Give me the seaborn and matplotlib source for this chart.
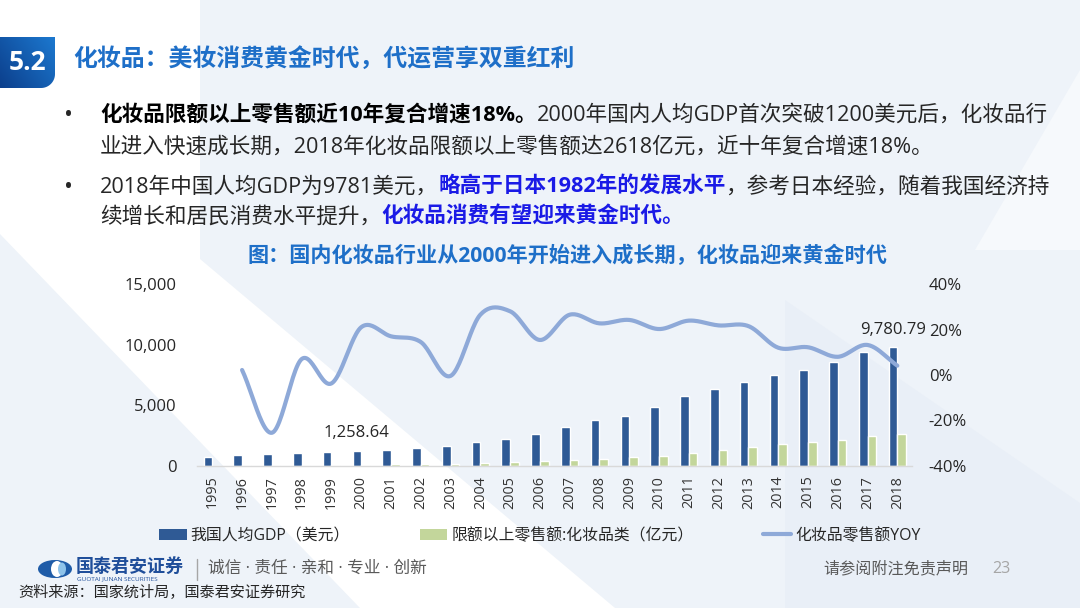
import numpy as np
import pandas as pd
import matplotlib
matplotlib.use("Agg")
import matplotlib.pyplot as plt
import seaborn as sns
from matplotlib.patches import Polygon, Patch, Ellipse
from matplotlib.lines import Line2D
from matplotlib.ticker import FuncFormatter, FixedLocator

# ---------------- data ----------------
years = [str(y) for y in range(1995, 2019)]
gdp_per_capita = [770, 880, 990, 1070, 1130, 1258.64, 1340, 1480, 1650, 1950,
                  2230, 2610, 3190, 3790, 4120, 4860, 5745, 6320, 6900, 7475,
                  7910, 8545, 9395, 9780.79]
cosmetics_sales = [40, 50, 60, 70, 80, 90, 130, 150, 165, 220, 300, 385, 470,
                   580, 715, 825, 1070, 1320, 1590, 1815, 1980, 2170, 2470, 2618]
yoy_years = years[1:]
cosmetics_yoy = [2.2, -25.4, 7.0, -3.7, 21.0, 17.0, 14.5, -0.4, 26.5, 28.0,
                 15.4, 26.5, 22.7, 24.2, 20.2, 23.9, 21.8, 21.5, 12.0, 12.2,
                 8.0, 13.2, 4.1]
series_names = ["我国人均GDP（美元）", "限额以上零售额:化妆品类（亿元）", "化妆品零售额YOY"]
left_ticks = [0, 5000, 10000, 15000]
right_ticks = [-40, -20, 0, 20, 40]
labelled_years = ["2000", "2018"]

header_no = "5.2"
header_title = "化妆品：美妆消费黄金时代，代运营享双重红利"
chart_title = "图：国内化妆品行业从2000年开始进入成长期，化妆品迎来黄金时代"
source_text = "资料来源：国家统计局，国泰君安证券研究"

# ---------------- style ----------------
W, H = 1080, 608
BAR_BLUE = "#2F5A95"
BAR_GREEN = "#C3D69B"
LINE_BLUE = "#8EA9D8"
TITLE_BLUE = "#1E6FC8"
HILITE = "#1A1AE6"
TXT = "#262626"

sns.set_style("white")
plt.rcParams["font.family"] = ["Open Sans", "Noto Sans CJK SC", "DejaVu Sans"]
plt.rcParams["axes.unicode_minus"] = False

fig = plt.figure(figsize=(W / 100, H / 100), dpi=100)
fig.patch.set_facecolor("#EEF3F9")


def P(x, y):
    return (x / W, 1 - y / H)


# background decoration
fig.patches.append(Polygon([P(0, 0), P(200, 0), P(200, 259), P(615, 608), P(360, 608), P(0, 234)],
                           closed=True, transform=fig.transFigure, facecolor="white",
                           edgecolor="none", zorder=-10))
fig.patches.append(Polygon([P(1080, 70), P(975, 250), P(1080, 250)],
                           closed=True, transform=fig.transFigure, facecolor="#F6F9FC",
                           edgecolor="none", zorder=-10))
fig.patches.append(Polygon([P(785, 300), P(1080, 503), P(1080, 608), P(785, 608)],
                           closed=True, transform=fig.transFigure, facecolor="#E9EFF7",
                           edgecolor="none", zorder=-9))

# header box with gradient and rounded bottom-right corner
axh = fig.add_axes([0, 1 - 88 / H, 55 / W, 51 / H])
axh.set_xlim(0, 55)
axh.set_ylim(88, 37)
axh.axis("off")
r = 14
ang = np.linspace(0, np.pi / 2, 20)
verts = [(0, 37), (55, 37), (55, 88 - r)] + \
        [(55 - r + r * np.cos(a), 88 - r + r * np.sin(a)) for a in ang] + [(0, 88)]
clip = Polygon(verts, closed=True, facecolor="none", edgecolor="none")
axh.add_patch(clip)
gx, gy = np.meshgrid(np.linspace(0, 1, 60), np.linspace(0, 1, 60))
grad = (gx * 0.6 + (1 - gy) * 0.4)
cmap = matplotlib.colors.LinearSegmentedColormap.from_list("hb", ["#0C3F8C", "#1C78CF"])
im = axh.imshow(grad, extent=[0, 55, 88, 37], cmap=cmap, aspect="auto")
im.set_clip_path(clip)
fig.text(*P(28, 62), header_no, color="white", fontsize=19, fontweight="bold",
         ha="center", va="center")
fig.text(*P(73, 60), header_title, color=TITLE_BLUE, fontsize=17.2, fontweight="bold",
         ha="left", va="center")

# bullet text (mixed runs)
renderer = fig.canvas.get_renderer()
BSIZE = 15.55


def draw_runs(runs, x0, yc):
    x = x0
    for txt, weight, color in runs:
        t = fig.text(*P(x, yc), txt, fontsize=BSIZE, fontweight=weight, color=color,
                     ha="left", va="center_baseline")
        x += t.get_window_extent(renderer=renderer).width


lines = [
    (113, [("化妆品限额以上零售额近10年复合增速18%。", "bold", "black"),
           ("2000年国内人均GDP首次突破1200美元后，化妆品行", "normal", TXT)]),
    (145, [("业进入快速成长期，2018年化妆品限额以上零售额达2618亿元，近十年复合增速18%。", "normal", TXT)]),
    (185, [("2018年中国人均GDP为9781美元，", "normal", TXT),
           ("略高于日本1982年的发展水平", "bold", HILITE),
           ("，参考日本经验，随着我国经济持", "normal", TXT)]),
    (215, [("续增长和居民消费水平提升，", "normal", TXT),
           ("化妆品消费有望迎来黄金时代。", "bold", HILITE)]),
]
for yc, runs in lines:
    draw_runs(runs, 100, yc)
for yc in (113, 185):
    fig.text(*P(69, yc), "•", fontsize=17, color=TXT, ha="center", va="center_baseline")

fig.text(*P(567, 256), chart_title, color=TITLE_BLUE, fontsize=15.2, fontweight="bold",
         ha="center", va="center")

# ---------------- chart ----------------
ax = fig.add_axes([197.4 / W, 1 - 466 / H, 714.8 / W, 182 / H])
ax.set_facecolor("none")
df = pd.DataFrame({
    "year": years * 2,
    "value": gdp_per_capita + cosmetics_sales,
    "series": [series_names[0]] * len(years) + [series_names[1]] * len(years),
})
sns.barplot(data=df, x="year", y="value", hue="series", palette=[BAR_BLUE, BAR_GREEN],
            width=0.58, saturation=1, errorbar=None, legend=False, ax=ax)
ax.set_xlim(-0.5, len(years) - 0.5)
ax.set_ylim(0, 15000)
ax.yaxis.set_major_locator(FixedLocator(left_ticks))
ax.yaxis.set_major_formatter(FuncFormatter(lambda v, p: f"{v:,.0f}"))
ax.set_xlabel("")
ax.set_ylabel("")
for s in ("top", "right", "left"):
    ax.spines[s].set_visible(False)
ax.spines["bottom"].set_color("#D9D9D9")
ax.spines["bottom"].set_linewidth(1)
ax.tick_params(axis="y", length=0, pad=15, labelsize=12, labelcolor=TXT)
ax.tick_params(axis="x", which="major", length=0, pad=7, labelsize=10.4,
               labelcolor="#333333", rotation=90)
ax.set_xticks(np.arange(-0.5, len(years), 1), minor=True)
ax.tick_params(axis="x", which="minor", length=4, width=1, color="#D9D9D9")
ax.grid(False)

# data labels on blue bars
for bar, yr, val in zip(ax.containers[0], years, gdp_per_capita):
    if yr in labelled_years:
        ax.annotate(f"{val:,.2f}", xy=(bar.get_x() + bar.get_width() / 2, bar.get_height()),
                    xytext=(0, 7), textcoords="offset points", ha="center", va="bottom",
                    fontsize=12, color=TXT)

ax2 = ax.twinx()
ax2.set_ylim(-40, 40)
ax2.yaxis.set_major_locator(FixedLocator(right_ticks))
ax2.yaxis.set_major_formatter(FuncFormatter(lambda v, p: f"{v:.0f}%"))
for s in ax2.spines.values():
    s.set_visible(False)
ax2.tick_params(axis="y", length=0, pad=12, labelsize=12, labelcolor=TXT)
ax2.grid(False)

# smooth (Catmull-Rom) rendering of the YOY series at the category positions
xpos = np.array([years.index(y) for y in yoy_years], dtype=float)
yv = np.array(cosmetics_yoy, dtype=float)
px = np.concatenate([[2 * xpos[0] - xpos[1]], xpos, [2 * xpos[-1] - xpos[-2]]])
py = np.concatenate([[2 * yv[0] - yv[1]], yv, [2 * yv[-1] - yv[-2]]])
xs, ys = [], []
t = np.linspace(0, 1, 25)
for i in range(1, len(px) - 2):
    for arr, out in ((px, xs), (py, ys)):
        p0, p1, p2, p3 = arr[i - 1], arr[i], arr[i + 1], arr[i + 2]
        seg = 0.5 * ((2 * p1) + (-p0 + p2) * t + (2 * p0 - 5 * p1 + 4 * p2 - p3) * t ** 2
                     + (-p0 + 3 * p1 - 3 * p2 + p3) * t ** 3)
        out.extend(seg if i == 1 else seg[1:])
sns.lineplot(x=np.array(xs), y=np.array(ys), sort=False, estimator=None, color=LINE_BLUE,
             linewidth=3, ax=ax2)
ax2.set_xlim(-0.5, len(years) - 0.5)

# legend
handles = [Patch(facecolor=BAR_BLUE, edgecolor="none"),
           Patch(facecolor=BAR_GREEN, edgecolor="none"),
           Line2D([0], [0], color=LINE_BLUE, lw=3)]
fig.legend(handles, series_names, loc="center left", bbox_to_anchor=P(159, 536), ncol=3,
           frameon=False, fontsize=11.4, handlelength=1.75, handleheight=0.75,
           handletextpad=0.25, columnspacing=4.4, borderpad=0, borderaxespad=0,
           labelcolor=TXT)

# ---------------- footer ----------------
fig.patches.append(Ellipse(P(55, 569), 34 / W, 18 / H, transform=fig.transFigure,
                           facecolor="#1F5CA8", edgecolor="none"))
fig.patches.append(Ellipse(P(57, 569), 12 / W, 16 / H, transform=fig.transFigure,
                           facecolor="white", edgecolor="none"))
fig.patches.append(Ellipse(P(62, 569), 8 / W, 13 / H, transform=fig.transFigure,
                           facecolor="#8EC3EA", edgecolor="none"))
fig.text(*P(76, 567), "国泰君安证券", color="#1F4E9A", fontsize=13, fontweight="bold",
         ha="left", va="center")
fig.text(*P(77, 579), "GUOTAI JUNAN SECURITIES", color="#1F4E9A", fontsize=4.6,
         ha="left", va="center")
fig.add_artist(Line2D([197 / W, 197 / W], [1 - 559 / H, 1 - 580 / H], color="#A6A6A6", lw=1))
fig.text(*P(208, 569), "诚信 · 责任 · 亲和 · 专业 · 创新", color="#595959", fontsize=12,
         ha="left", va="center")
fig.text(*P(823, 569), "请参阅附注免责声明", color="#595959", fontsize=11.6,
         ha="left", va="center")
fig.text(*P(992, 569), "23", color="#A6A6A6", fontsize=11.6, ha="left", va="center")
fig.text(*P(18, 593), source_text, color=TXT, fontsize=10.9, ha="left", va="center")

fig.savefig("out.png", dpi=100, facecolor=fig.get_facecolor())
